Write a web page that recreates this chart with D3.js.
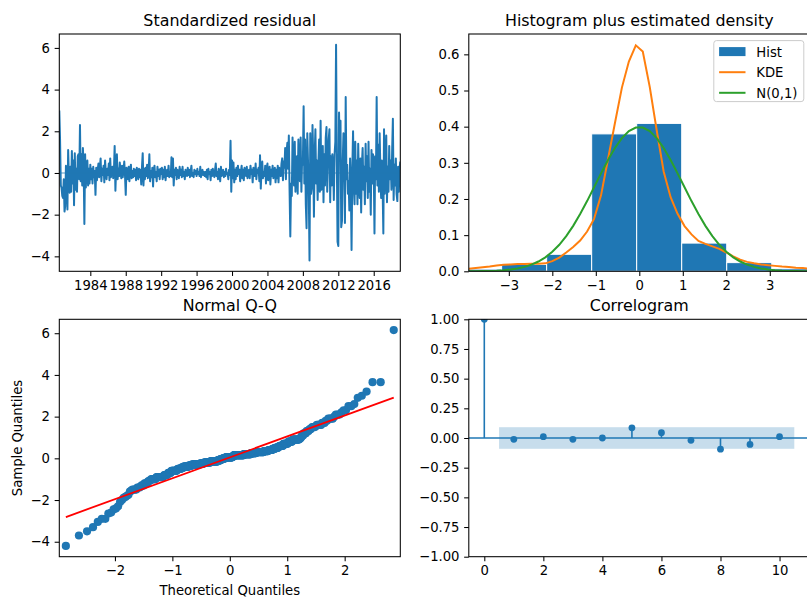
<!DOCTYPE html>
<html>
<head>
<meta charset="utf-8">
<script src="https://d3js.org/d3.v7.min.js"></script>
<style>
  body { margin: 0; background: #fff; }
  svg { display: block; font-family: "DejaVu Sans", sans-serif; }
  .tick text { font-size: 13.2px; fill: #000; }
  .title { font-size: 15.9px; fill: #000; }
  .label { font-size: 13.2px; fill: #000; }
</style>
</head>
<body>
<script>
// standardized residuals, one per month from Jul 1980 to Jan 2019
const residStart = [1980, 6];
const resid = [
  3.0, 1.6, -0.6, -0.7, -1.1, -1.2,                                        // 1980 (Jul-Dec)
  -0.3, -1.85, -1.6, 0.35, -0.4, -1.75, 1.1, -0.2, -0.95, 0.3, -0.9, 1.05,  // 1981
  -0.5, 0.6, -1.55, 0.95, -0.8, 0.2, -0.9, 0.8, 0.9, -0.3, 2.3, -0.4,       // 1982
  0.9, -0.6, 1.2, 0.3, -2.45, 0.9, -0.7, 0.3, 0.6, -0.6, 0.2, -0.5,         // 1983
  0.4, -0.3, 0.2, -0.5, 0.3, -0.2, 0.1, -1.05, 0.25, -0.35, 0.15, 0.45,     // 1984
  -0.2, 0.3, 0.7, -0.4, 0.2, -0.1, 0.35, -0.45, 0.6, 0.05, -0.3, 0.2,       // 1985
  -0.1, 0.45, -0.35, 0.7, -0.2, 0.15, 0.3, -0.25, 0.1, 1.3, -0.85, 0.2,     // 1986
  0.9, -0.3, 0.2, -0.15, 0.5, 0.05, -0.25, 0.35, -0.2, 0.15, 0.55, -0.1,    // 1987
  -1.05, 0.25, 0.05, -0.3, 0.3, -0.4, 0.15, 0.4, -0.25, 0.1, -0.2, 0.2,     // 1988
  -0.15, 0.15, -0.35, 0.25, 0.0, -0.3, 0.2, -0.2, 0.15, -0.55, 0.3, 0.95,   // 1989
  -0.6, 0.2, -0.3, 0.25, -0.15, 0.4, -0.25, 0.0, 0.9, -0.4, 0.1, -0.2,      // 1990
  0.25, -0.65, 0.15, 0.35, -0.2, 0.05, -0.4, 0.3, -0.15, 0.15, -0.3, 0.2,   // 1991
  -0.05, 0.25, -0.3, 0.15, -0.2, 0.3, -0.35, 0.05, 0.15, -0.15, 0.35, -0.2, // 1992
  0.05, -0.15, 0.75, -0.2, 0.7, -0.6, 0.15, -0.1, 0.25, -0.3, 0.15, 0.0,    // 1993
  -0.25, 0.3, -0.1, 0.15, -0.2, 0.3, -0.15, 0.05, -0.3, 0.15, 0.0, -0.15,   // 1994
  0.25, -0.1, 0.15, -0.2, 0.05, 0.35, -0.15, 0.0, -0.2, 0.15, -0.05, 0.1,   // 1995
  -0.15, 0.2, -0.05, 0.05, -0.15, 0.3, -0.2, 0.05, 0.15, -0.1, 0.05, -0.15, // 1996
  0.05, -0.2, 0.15, -0.3, 0.2, -0.05, 0.05, -0.35, 0.15, -0.15, 0.2, -0.05, // 1997
  -0.2, 0.15, 0.45, -0.15, 0.05, -0.3, 0.2, -0.05, -0.4, 0.3, -0.15, 0.05,  // 1998
  0.15, -0.2, 0.05, -0.15, 0.2, -0.05, 0.0, -0.3, 0.15, -0.1, 1.55, -0.9,   // 1999
  0.6, -0.25, 0.5, -0.45, 0.15, -0.3, 0.25, -0.15, 0.35, -0.05, 0.15, -0.4, // 2000
  0.05, 0.35, -0.25, 0.15, -0.35, 0.25, 0.0, -0.15, 0.3, -0.25, 0.05, 0.15, // 2001
  -0.25, 0.35, -0.05, 0.15, -0.45, 0.25, 0.05, -0.15, 0.45, -0.3, 0.15, 0.0,// 2002
  0.25, -0.4, 0.85, -0.75, 0.15, 0.55, -0.25, 0.05, -0.15, 0.35, -0.5, 0.25,// 2003
  0.45, -0.35, 0.05, 0.3, -0.55, 0.15, -0.15, 0.35, -0.25, 0.0, 0.25, -0.45,// 2004
  0.15, -0.25, 0.35, -0.45, 0.25, 0.05, -0.15, 0.45, 0.7, -0.35, 0.55, 0.25,// 2005
  1.2, -0.3, 1.0, 1.45, 0.2, 1.8, -0.8, -3.05, -0.5, -1.1, 1.7, 0.3,        // 2006
  -0.6, 1.5, -0.9, 0.5, 0.8, -1.0, 1.6, 0.2, -0.4, 1.7, -0.9, 0.7,          // 2007
  0.4, 3.2, -0.5, 1.6, -1.5, -2.65, 1.9, 0.5, -0.8, -4.2, 1.9, -1.0,        // 2008
  -0.7, 2.3, 0.9, -2.1, 0.8, 2.1, -0.5, 0.6, -1.3, 0.4, 1.6, -0.9,          // 2009
  2.5, -0.8, 0.3, 1.3, -1.4, 0.9, -0.6, 1.7, 2.2, -0.9, 0.5, 1.6,           // 2010
  2.1, -1.4, 0.8, -0.6, 0.9, 0.4, -1.3, 0.9, 1.5, 6.15, 0.7, -3.3,          // 2011
  -3.5, 2.9, 0.9, 2.5, -2.6, -2.3, 0.5, 1.9, 0.8, -2.4, 3.65, -0.3,         // 2012
  0.4, -1.0, -0.4, -1.8, 0.7, -0.6, -3.7, 0.2, 2.0, -0.7, -1.5, 1.5,        // 2013
  -1.0, 0.6, -1.5, 1.4, -0.3, -1.2, 0.7, -1.9, 0.4, 1.2, -0.8, 0.3,         // 2014
  -1.5, 1.4, -0.4, 0.8, -1.2, 1.5, -0.9, 0.2, -2.0, 1.1, -0.5, 0.9,         // 2015
  0.4, -2.9, 0.8, -0.3, 3.65, -0.6, 1.35, -0.9, 1.9, 0.2, -1.2, 0.6,        // 2016
  -0.7, -2.9, 2.1, -1.0, 0.5, 1.8, -1.4, 0.3, -0.9, 1.3, -0.3, 0.6,         // 2017
  -0.8, 1.2, 2.6, -1.3, 0.4, -0.6, 0.7, -1.0, -1.35, 0.3, -0.9, 0.2,        // 2018
  0.55                                                                      // 2019 (Jan)
];
const yearTicks = [1984, 1988, 1992, 1996, 2000, 2004, 2008, 2012, 2016];

// histogram (10 bins between min and max residual), density scale
const histEdges = [-4.2, -3.165, -2.13, -1.095, -0.06, 0.975, 2.01, 3.045, 4.08, 5.115, 6.15];
const histDensity = [0.006, 0.019, 0.047, 0.38, 0.409, 0.078, 0.024, 0.007, 0, 0.002];

// evaluation grid for the two density curves
const densityX = [
  -3.92, -3.76, -3.60, -3.44, -3.28, -3.12, -2.96, -2.80, -2.64, -2.48,
  -2.32, -2.16, -2.00, -1.84, -1.68, -1.52, -1.36, -1.20, -1.04, -0.88,
  -0.72, -0.56, -0.40, -0.24, -0.08, 0.08, 0.24, 0.40, 0.56, 0.72,
  0.88, 1.04, 1.20, 1.36, 1.52, 1.68, 1.84, 2.00, 2.16, 2.32,
  2.48, 2.64, 2.80, 2.96, 3.12, 3.28, 3.44, 3.60, 3.76, 3.92
];
const kdeDensity = [
  0.007, 0.009, 0.011, 0.013, 0.016, 0.018, 0.019, 0.020, 0.020, 0.021,
  0.021, 0.022, 0.028, 0.038, 0.052, 0.067, 0.085, 0.110, 0.145, 0.210,
  0.310, 0.410, 0.508, 0.580, 0.625, 0.608, 0.510, 0.390, 0.276, 0.205,
  0.159, 0.125, 0.102, 0.084, 0.076, 0.069, 0.062, 0.052, 0.041, 0.032,
  0.026, 0.022, 0.019, 0.017, 0.015, 0.013, 0.012, 0.010, 0.009, 0.007
];
const normalDensity = [
  0.0002, 0.0003, 0.0006, 0.0011, 0.0018, 0.0031, 0.0050, 0.0079, 0.0122, 0.0184,
  0.0271, 0.0387, 0.0540, 0.0734, 0.0973, 0.1257, 0.1582, 0.1942, 0.2323, 0.2709,
  0.3079, 0.3411, 0.3683, 0.3876, 0.3977, 0.3977, 0.3876, 0.3683, 0.3411, 0.3079,
  0.2709, 0.2323, 0.1942, 0.1582, 0.1257, 0.0973, 0.0734, 0.0540, 0.0387, 0.0271,
  0.0184, 0.0122, 0.0079, 0.0050, 0.0031, 0.0018, 0.0011, 0.0006, 0.0003, 0.0002
];

// autocorrelation of the residuals
const acfLags = [0, 1, 2, 3, 4, 5, 6, 7, 8, 9, 10];
const acfValues = [1.0, -0.011, 0.011, -0.011, 0.0, 0.086, 0.045, -0.02, -0.094, -0.054, 0.011];
const acfBand = 0.091;

const width = 807, height = 598;
const blue = "#1f77b4", orange = "#ff7f0e", green = "#2ca02c";
const tick = 4.65; // tick length and label pad

const svg = d3.select("body").append("svg")
  .attr("width", width)
  .attr("height", height);

const boxes = {
  resid: { x: 59.3, y: 34, w: 341, h: 237.3 },
  hist:  { x: 468.8, y: 34, w: 341, h: 237.3 },
  qq:    { x: 59.3, y: 319.3, w: 341, h: 237.4 },
  acf:   { x: 468.8, y: 319.3, w: 341, h: 237.4 }
};

let clipCount = 0;
function panel(box, title) {
  const g = svg.append("g").attr("transform", `translate(${box.x},${box.y})`);
  const id = "clip" + (clipCount++);
  g.append("clipPath").attr("id", id)
    .append("rect").attr("width", box.w).attr("height", box.h);
  const plot = g.append("g").attr("clip-path", `url(#${id})`);
  svg.append("text").attr("class", "title")
    .attr("x", box.x + box.w / 2).attr("y", box.y - 8)
    .attr("text-anchor", "middle").text(title);
  return { g, plot };
}

function styleAxis(sel) {
  sel.attr("font-size", null).attr("font-family", null);
  sel.select(".domain").remove();
  sel.selectAll(".tick line").attr("stroke", "#000").attr("stroke-width", 1.05);
}

function addAxes(p, box, x, y, xTicks, yTicks, xFmt, yFmt) {
  p.g.append("g").attr("transform", `translate(0,${box.h})`)
    .call(d3.axisBottom(x).tickValues(xTicks).tickFormat(xFmt).tickSize(tick).tickPadding(tick))
    .call(styleAxis);
  p.g.append("g")
    .call(d3.axisLeft(y).tickValues(yTicks).tickFormat(yFmt).tickSize(tick).tickPadding(tick))
    .call(styleAxis);
  p.g.append("rect").attr("width", box.w).attr("height", box.h)
    .attr("fill", "none").attr("stroke", "#000").attr("stroke-width", 1.05);
}

function padded(lo, hi, m) {
  const r = hi - lo;
  return [lo - r * m, hi + r * m];
}

// ---- standardized residual ----
{
  const box = boxes.resid;
  const p = panel(box, "Standardized residual");
  const start = new Date(Date.UTC(residStart[0], residStart[1], 1));
  const dates = resid.map((_, i) => d3.utcMonth.offset(start, i));
  const x = d3.scaleUtc().domain([dates[0], dates[dates.length - 1]]).range([0, box.w]);
  const y = d3.scaleLinear().domain(padded(d3.min(resid), d3.max(resid), 0.05)).range([box.h, 0]);

  p.plot.append("path")
    .attr("d", d3.line()(resid.map((v, i) => [x(dates[i]), y(v)])))
    .attr("fill", "none").attr("stroke", blue).attr("stroke-width", 2)
    .attr("stroke-linejoin", "round");
  p.plot.append("line")
    .attr("x1", x(dates[0])).attr("x2", x(dates[dates.length - 1]))
    .attr("y1", y(0)).attr("y2", y(0))
    .attr("stroke", blue).attr("stroke-opacity", 0.5).attr("stroke-width", 1.5);

  addAxes(p, box, x, y,
    yearTicks.map(yr => new Date(Date.UTC(yr, 0, 1))), [-4, -2, 0, 2, 4, 6],
    d3.utcFormat("%Y"), d3.format("d"));
}

// ---- histogram plus estimated density ----
{
  const box = boxes.hist;
  const p = panel(box, "Histogram plus estimated density");
  const x = d3.scaleLinear().domain([densityX[0], densityX[densityX.length - 1]]).range([0, box.w]);
  const y = d3.scaleLinear().domain([0, d3.max(kdeDensity) * 1.05]).range([box.h, 0]);

  p.plot.selectAll("rect.bar")
    .data(histDensity)
    .join("rect")
    .attr("class", "bar")
    .attr("x", (d, i) => x(histEdges[i]))
    .attr("width", (d, i) => x(histEdges[i + 1]) - x(histEdges[i]))
    .attr("y", d => y(d))
    .attr("height", d => y(0) - y(d))
    .attr("fill", blue).attr("stroke", "#fff").attr("stroke-width", 1);

  const curve = vals => d3.line()(vals.map((v, i) => [x(densityX[i]), y(v)]));
  p.plot.append("path").attr("d", curve(kdeDensity))
    .attr("fill", "none").attr("stroke", orange).attr("stroke-width", 2);
  p.plot.append("path").attr("d", curve(normalDensity))
    .attr("fill", "none").attr("stroke", green).attr("stroke-width", 2);

  addAxes(p, box, x, y, [-3, -2, -1, 0, 1, 2, 3], [0, 0.1, 0.2, 0.3, 0.4, 0.5, 0.6],
    d3.format("d"), d3.format(".1f"));

  // legend
  const lg = p.g.append("g").attr("transform", `translate(${box.w - 96},6.6)`);
  lg.append("rect").attr("width", 90).attr("height", 61).attr("rx", 2.7)
    .attr("fill", "#fff").attr("fill-opacity", 0.8)
    .attr("stroke", "#cccccc").attr("stroke-width", 1);
  const items = [
    { name: "Hist", kind: "patch", color: blue },
    { name: "KDE", kind: "line", color: orange },
    { name: "N(0,1)", kind: "line", color: green }
  ];
  items.forEach((it, i) => {
    const cy = 11 + i * 20.6;
    if (it.kind === "patch") {
      lg.append("rect").attr("x", 5.3).attr("y", cy - 4.5).attr("width", 26.4).attr("height", 9)
        .attr("fill", it.color);
    } else {
      lg.append("line").attr("x1", 5.3).attr("x2", 31.7).attr("y1", cy).attr("y2", cy)
        .attr("stroke", it.color).attr("stroke-width", 2);
    }
    lg.append("text").attr("class", "label").attr("x", 42.5).attr("y", cy + 5).text(it.name);
  });
}

// ---- normal Q-Q ----
{
  const box = boxes.qq;
  const p = panel(box, "Normal Q-Q");
  const n = resid.length;
  const sample = resid.slice().sort(d3.ascending);
  const theo = sample.map((_, i) => normInv((i + 1) / (n + 1)));
  const x = d3.scaleLinear().domain(padded(theo[0], theo[n - 1], 0.02)).range([0, box.w]);
  const y = d3.scaleLinear().domain(padded(sample[0], sample[n - 1], 0.05)).range([box.h, 0]);

  p.plot.selectAll("circle")
    .data(sample)
    .join("circle")
    .attr("cx", (d, i) => x(theo[i]))
    .attr("cy", d => y(d))
    .attr("r", 4.1)
    .attr("fill", blue);

  // standardized reference line
  const m = d3.mean(resid), s = d3.deviation(resid);
  const ends = [theo[0], theo[n - 1]];
  p.plot.append("line")
    .attr("x1", x(ends[0])).attr("y1", y(m + s * ends[0]))
    .attr("x2", x(ends[1])).attr("y2", y(m + s * ends[1]))
    .attr("stroke", "#ff0000").attr("stroke-width", 1.8);

  addAxes(p, box, x, y, [-2, -1, 0, 1, 2], [-4, -2, 0, 2, 4, 6], d3.format("d"), d3.format("d"));

  svg.append("text").attr("class", "label")
    .attr("x", box.x + box.w / 2).attr("y", 595)
    .attr("text-anchor", "middle").text("Theoretical Quantiles");
  svg.append("text").attr("class", "label")
    .attr("transform", `translate(22,${box.y + box.h / 2}) rotate(-90)`)
    .attr("text-anchor", "middle").text("Sample Quantiles");
}

// ---- correlogram ----
{
  const box = boxes.acf;
  const p = panel(box, "Correlogram");
  const x = d3.scaleLinear().domain(padded(0, acfLags[acfLags.length - 1] + 0.5, 0.05)).range([0, box.w]);
  const y = d3.scaleLinear().domain([-1, 1]).range([box.h, 0]);

  p.plot.append("rect")
    .attr("x", x(0.5)).attr("width", x(acfLags[acfLags.length - 1] + 0.5) - x(0.5))
    .attr("y", y(acfBand)).attr("height", y(-acfBand) - y(acfBand))
    .attr("fill", blue).attr("fill-opacity", 0.25);

  p.plot.selectAll("line.stem")
    .data(acfValues)
    .join("line")
    .attr("class", "stem")
    .attr("x1", (d, i) => x(acfLags[i])).attr("x2", (d, i) => x(acfLags[i]))
    .attr("y1", y(0)).attr("y2", d => y(d))
    .attr("stroke", blue).attr("stroke-width", 1.6);

  p.plot.append("line")
    .attr("x1", 0).attr("x2", box.w).attr("y1", y(0)).attr("y2", y(0))
    .attr("stroke", blue).attr("stroke-width", 1.6);

  p.plot.selectAll("circle")
    .data(acfValues)
    .join("circle")
    .attr("cx", (d, i) => x(acfLags[i]))
    .attr("cy", d => y(d))
    .attr("r", 3.4)
    .attr("fill", blue);

  addAxes(p, box, x, y, [0, 2, 4, 6, 8, 10],
    [-1, -0.75, -0.5, -0.25, 0, 0.25, 0.5, 0.75, 1], d3.format("d"), d3.format(".2f"));
}

// inverse of the standard normal CDF (Acklam's approximation)
function normInv(p) {
  const a = [-39.69683028665376, 220.9460984245205, -275.9285104469687, 138.3577518672690, -30.66479806614716, 2.506628277459239];
  const b = [-54.47609879822406, 161.5858368580409, -155.6989798598866, 66.80131188771972, -13.28068155288572];
  const c = [-0.007784894002430293, -0.3223964580411365, -2.400758277161838, -2.549732539343734, 4.374664141464968, 2.938163982698783];
  const d = [0.007784695709041462, 0.3224671290700398, 2.445134137142996, 3.754408661907416];
  const pl = 0.02425;
  if (p < pl) {
    const q = Math.sqrt(-2 * Math.log(p));
    return (((((c[0] * q + c[1]) * q + c[2]) * q + c[3]) * q + c[4]) * q + c[5]) /
      ((((d[0] * q + d[1]) * q + d[2]) * q + d[3]) * q + 1);
  }
  if (p > 1 - pl) {
    const q = Math.sqrt(-2 * Math.log(1 - p));
    return -(((((c[0] * q + c[1]) * q + c[2]) * q + c[3]) * q + c[4]) * q + c[5]) /
      ((((d[0] * q + d[1]) * q + d[2]) * q + d[3]) * q + 1);
  }
  const q = p - 0.5, r = q * q;
  return (((((a[0] * r + a[1]) * r + a[2]) * r + a[3]) * r + a[4]) * r + a[5]) * q /
    (((((b[0] * r + b[1]) * r + b[2]) * r + b[3]) * r + b[4]) * r + 1);
}
</script>
</body>
</html>
